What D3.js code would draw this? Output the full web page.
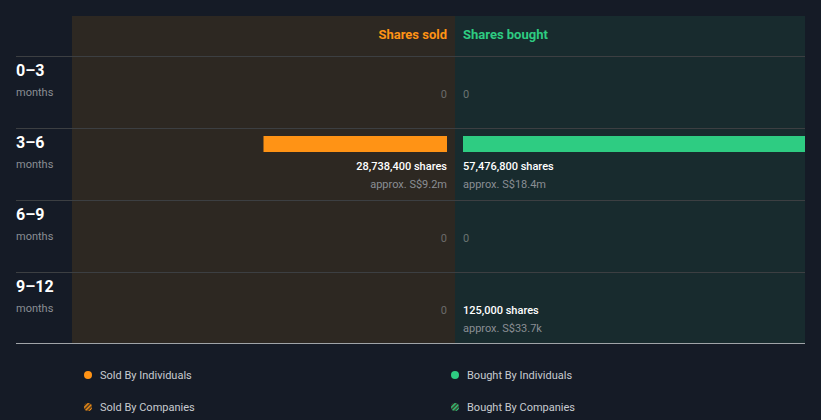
<html>
<head>
  <script src="https://d3js.org/d3.v7.min.js"></script>
  <style>
    body { margin: 0; background: #151b26; }
    text { font-family: Roboto, sans-serif; }
  </style>
</head>
<body>
<script>
var periods = ['0\u20133', '3\u20136', '6\u20139', '9\u201312'];
var soldShares = [0, 28738400, 0, 0];
var soldValue = [null, 'S$9.2m', null, null];
var boughtShares = [0, 57476800, 0, 125000];
var boughtValue = [null, 'S$18.4m', null, 'S$33.7k'];
var legendItems = ['Sold By Individuals', 'Bought By Individuals', 'Sold By Companies', 'Bought By Companies'];

var width = 821, height = 420;
var orange = '#ff9315', green = '#2ecc82';
var padL = 72, mid = 455, padR = 805, padT = 16, head = 40, rowH = 72;

var svg = d3.select('body').append('svg')
  .attr('width', width).attr('height', height);

var defs = svg.append('defs');
// clip in each row's local coordinates, only x matters
defs.append('clipPath').attr('id', 'clipB')
  .append('rect').attr('x', mid).attr('y', -1000).attr('width', padR - mid).attr('height', 3000);
function hatch(id, c) {
  var p = defs.append('pattern').attr('id', id).attr('width', 3).attr('height', 3)
    .attr('patternUnits', 'userSpaceOnUse').attr('patternTransform', 'rotate(45)');
  p.append('rect').attr('width', 3).attr('height', 3).attr('fill', '#3a3020');
  p.append('rect').attr('width', 1.5).attr('height', 3).attr('fill', c);
}
hatch('hO', orange); hatch('hG', green);

var y = d3.scaleBand().domain(periods).range([padT + head, padT + head + rowH * periods.length]);
var x = d3.scaleLinear().domain([0, d3.max(boughtShares.concat(soldShares))]).range([0, 367]);
var bottom = y.range()[1] - 1;

svg.append('rect').attr('x', padL).attr('y', padT).attr('width', mid - padL).attr('height', bottom - padT).attr('fill', '#2d2822');
svg.append('rect').attr('x', mid).attr('y', padT).attr('width', padR - mid).attr('height', bottom - padT).attr('fill', '#182b2e');

svg.append('text').attr('x', mid - 8).attr('y', padT + 23).attr('text-anchor', 'end')
  .attr('fill', orange).attr('font-size', 13).attr('font-weight', 'bold').text('Shares sold');
svg.append('text').attr('x', mid + 8).attr('y', padT + 23)
  .attr('fill', green).attr('font-size', 13).attr('font-weight', 'bold').text('Shares bought');

svg.selectAll('.rl').data(periods).enter().append('line')
  .attr('x1', 16).attr('x2', padR).attr('y1', function(d) { return y(d) + 0.5; }).attr('y2', function(d) { return y(d) + 0.5; })
  .attr('stroke', '#3c3f42').attr('stroke-width', 1);
svg.append('line').attr('x1', 16).attr('x2', padR).attr('y1', bottom + 0.5).attr('y2', bottom + 0.5)
  .attr('stroke', '#a0a4a8').attr('stroke-width', 1);

var rows = svg.selectAll('.row').data(periods).enter().append('g')
  .attr('transform', function(d) { return 'translate(0,' + y(d) + ')'; });

rows.append('text').attr('x', 16).attr('y', 20).attr('fill', '#fff').attr('font-size', 16).attr('font-weight', 'bold')
  .text(function(d) { return d; });
rows.append('text').attr('x', 16).attr('y', 40).attr('fill', '#8a8e94').attr('font-size', 11).text('months');

rows.each(function(d, i) {
  var g = d3.select(this);
  // sold side
  if (soldShares[i] > 0) {
    g.append('rect').attr('x', mid - 8 - x(soldShares[i])).attr('y', 8).attr('width', x(soldShares[i])).attr('height', 16).attr('fill', orange);
    g.append('text').attr('x', mid - 8).attr('y', 42).attr('text-anchor', 'end').attr('fill', '#fff').attr('font-size', 11).attr('font-weight', 500)
      .text(d3.format(',')(soldShares[i]) + ' shares');
    g.append('text').attr('x', mid - 8).attr('y', 60).attr('text-anchor', 'end').attr('fill', '#8a8e94').attr('font-size', 11)
      .text('approx. ' + soldValue[i]);
  } else {
    g.append('text').attr('x', mid - 8).attr('y', 42).attr('text-anchor', 'end').attr('fill', '#6b6b6b').attr('font-size', 11).text('0');
  }
  // bought side
  if (boughtShares[i] > 0) {
    var bw = x(boughtShares[i]);
    if (bw >= 1) {
      g.append('rect').attr('clip-path', 'url(#clipB)').attr('x', mid + 8).attr('y', 8).attr('width', bw).attr('height', 16).attr('fill', green);
    }
    g.append('text').attr('x', mid + 8).attr('y', 42).attr('fill', '#fff').attr('font-size', 11).attr('font-weight', 500)
      .text(d3.format(',')(boughtShares[i]) + ' shares');
    g.append('text').attr('x', mid + 8).attr('y', 60).attr('fill', '#8a8e94').attr('font-size', 11)
      .text('approx. ' + boughtValue[i]);
  } else {
    g.append('text').attr('x', mid + 8).attr('y', 42).attr('fill', '#6b7472').attr('font-size', 11).text('0');
  }
});

var legX = [88, 455], legY = [375, 407];
var legFill = [orange, green, 'url(#hO)', 'url(#hG)'];
var lg = svg.selectAll('.lg').data(legendItems).enter().append('g')
  .attr('transform', function(d, i) { return 'translate(' + legX[i % 2] + ',' + legY[Math.floor(i / 2)] + ')'; });
lg.append('circle').attr('r', 4).attr('fill', function(d, i) { return legFill[i]; });
lg.append('text').attr('x', 12).attr('y', 4).attr('fill', '#c8cbd0').attr('font-size', 11).text(function(d) { return d; });
</script>
</body>
</html>
